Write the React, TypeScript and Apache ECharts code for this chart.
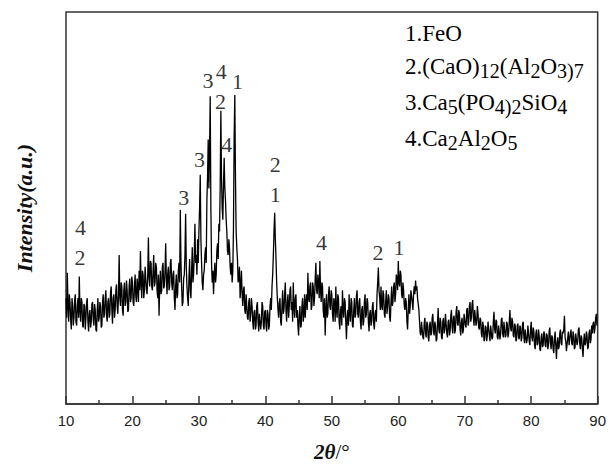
import React, { useEffect, useRef } from 'react';
import * as echarts from 'echarts';

// 2θ sampling grid: start and step (degrees)
const START_2THETA = 10;
const STEP_2THETA = 0.1;

// Intensity (a.u., 0–100 scale), one row per 2°
const intensity: number[] = [
  27, 22, 33.5, 25, 21, 28, 26, 21.5, 19, 27, 25, 20, 22, 26.5, 28, 21, 20, 25, 27, 22, // 10
  32.5, 24, 21, 27, 26, 20, 19.5, 25.5, 25, 19, 22, 26, 27, 21, 18.5, 23, 24, 19.5, 21, 25.5, // 12
  26, 21.5, 20, 25.5, 24, 19, 18.5, 24, 27, 21, 22, 26, 25, 19.5, 20, 26, 28, 22, 23, 27, // 14
  29, 22.5, 21, 26, 27, 22, 23, 28.5, 30, 24, 20.5, 27, 28, 22, 24, 29, 30.5, 25, 23, 28, // 16
  38, 27, 25, 31, 30, 24, 22.5, 29, 31, 25, 26, 31.5, 29, 23.5, 24, 30, 32, 26, 27, 32.5, // 18
  31, 26, 25, 30, 33, 27.5, 26, 32, 30, 26, 34, 29, 39, 31, 27, 34, 33, 27, 29, 35, // 20
  35, 29, 28, 33, 42.5, 32, 30, 36.5, 36, 30, 29, 34, 38, 30, 31, 36, 35, 29, 27, 33, // 22
  22.5, 30, 34, 28, 29, 35, 36, 29.5, 30, 34, 41, 32, 28, 33, 35, 29, 30, 36, 37, 31, // 24
  29, 33, 34, 27, 24, 30, 33, 27, 28, 34, 36, 31, 49.5, 36, 30, 25, 26, 32, 33, 38, // 26
  48.5, 35, 30, 27, 25, 32, 37, 29, 27, 34, 40, 31, 33, 38, 46, 36, 38, 33, 42, 36, // 28
  44, 50, 58.5, 42, 36, 31, 29, 33, 34, 38, 40, 36, 52, 58, 67.5, 55, 64, 78.5, 50, 36, // 30
  31, 34, 28, 33, 36, 31, 33, 39, 41, 37, 46, 44, 55, 74.8, 58, 50, 47, 56, 62.8, 55, // 32
  52, 47, 44, 39, 38, 42, 40, 35, 33, 36, 31, 34, 45, 67.5, 78.8, 58, 44, 40, 37, 31, // 34
  32, 35, 27, 30, 34, 28, 25, 29, 30, 24, 23, 28, 28, 22, 21.5, 26, 27, 21, 23, 27, // 36
  25, 21, 19, 23.5, 24, 19, 20, 25, 26, 21, 18.5, 23, 23, 19, 21, 26, 25, 20, 19, 23.5, // 38
  24, 20, 18.5, 24, 23, 19, 20, 25, 27, 24, 30, 33, 38, 44, 48.8, 42, 37, 31, 27, 24, // 40
  22, 26, 27, 21, 20, 25, 29, 23, 24, 28, 31, 24, 21, 26, 28, 22, 25, 29, 30, 24, // 42
  26, 21, 31, 25, 22, 27, 28, 22, 24, 20, 17.5, 23, 25, 19.5, 20, 25, 27, 21, 23, 28, // 44
  22, 26, 28, 24, 33.5, 27, 26, 30, 31, 24, 25, 31, 30, 25, 27, 32, 36, 29, 28, 33, // 46
  31, 27, 36.5, 29, 26, 31, 30, 24, 22, 27, 17.5, 24, 28, 22, 23, 28, 30, 25, 24, 29, // 48
  28, 23, 21, 27, 26, 21, 30, 24, 22, 28, 27, 21, 19, 24, 25, 20, 29, 24, 22, 27, // 50
  26, 21, 16.5, 22, 24, 20, 28, 23, 21, 27, 26, 20, 19.5, 24, 27, 22, 23, 27.5, 29, 23, // 52
  22, 26, 27, 21, 19, 24, 25, 20, 21, 26, 28, 22, 23, 27, 26, 21, 18.5, 23, 24, 20, // 54
  21, 25, 26, 20.5, 19, 23, 24, 21, 28, 31, 34.8, 29, 27, 24, 30, 25, 24, 29, 28, 23, // 56
  22, 26, 29, 23, 25, 28, 27, 22, 21, 26, 30, 25, 26, 30, 31, 26, 28, 33, 32, 29, // 58
  36.5, 31, 30, 34, 33, 28, 27, 31, 29, 25, 24, 27, 26, 21, 19, 24, 28, 23, 25, 29, // 60
  29, 26, 24, 28, 30, 28, 31.5, 29, 30, 27, 27, 24, 21, 18, 17.5, 21, 21, 17, 16.5, 20.5, // 62
  22, 18, 17, 21, 20.5, 17, 16, 20, 21, 17.5, 18, 22, 23, 18.5, 17.5, 21, 20, 16, 16.5, 20.5, // 64
  24.5, 19, 18, 22, 21, 17, 16.5, 21, 22, 18, 19, 23, 23, 18, 17, 21, 21.5, 17.5, 18.5, 22.5, // 66
  24, 19.5, 18, 22, 22.5, 18, 19, 23.5, 25, 20.5, 20, 24, 23, 19, 17.5, 21, 22, 18, 19, 23, // 68
  23, 20, 19.5, 24, 24.5, 20, 21, 25, 26, 21, 22, 25.5, 26.5, 22, 20, 24, 24, 20, 21, 25, // 70
  23, 19.5, 19, 22, 21.5, 18, 17, 21, 20, 16, 16.5, 20, 19.5, 16, 17.5, 21, 21, 17.5, 16, 20, // 72
  20, 16.5, 17, 21, 23.5, 19, 18, 21.5, 21, 17, 16.5, 20, 20, 16.5, 18, 21.5, 22, 18, 17, 21, // 74
  21, 17, 17.5, 21, 20.5, 17, 18, 21, 24, 19.5, 18.5, 22, 21, 17.5, 17, 20.5, 20, 16, 16.5, 20, // 76
  20.5, 17, 16.5, 20, 19.5, 16, 17, 20.5, 21, 17, 15.5, 19, 19, 15.5, 16.5, 20, 20, 16, 15, 19, // 78
  21, 17, 16, 19.5, 18.5, 15, 14, 18, 19, 15, 15.5, 19, 17.5, 14, 13.5, 17, 18, 14.5, 15, 18.5, // 80
  18, 15, 14.5, 18, 17.5, 14, 15, 18.5, 19.5, 15.5, 14, 17.5, 17, 14, 13, 16.5, 18.5, 15, 11.5, 15.5, // 82
  17, 14, 14.5, 18, 19, 15.5, 15, 18.5, 18, 19, 22.5, 17, 16, 13.5, 13.5, 17, 18.5, 15, 15, 18, // 84
  19, 15.5, 15, 18.5, 17.5, 14, 14.5, 18, 18, 15, 16, 19, 19.5, 15.5, 14, 17.5, 17, 14, 12, 16, // 86
  18, 15, 15.5, 18.5, 17.5, 14, 14.5, 18, 19, 15.5, 16.5, 20, 18, 20.5, 21, 18, 19.5, 22, 23, 20, // 88
  20, // 90
];

// Peak phase markers: [2θ, intensity position, phase number]
const peakLabels: [number, number, string][] = [
  [12.2, 45, '4'],
  [12.1, 37.25, '2'],
  [27.7, 52.75, '3'],
  [30.1, 62.5, '3'],
  [31.35, 82.5, '3'],
  [33.35, 84.75, '4'],
  [33.25, 77.25, '2'],
  [34.2, 66.25, '4'],
  [35.8, 82.25, '1'],
  [41.5, 61, '2'],
  [41.5, 53.5, '1'],
  [48.45, 41.25, '4'],
  [56.95, 38.75, '2'],
  [60.1, 40, '1'],
];

// Phase legend lines (rich text: m = main, s = subscript)
const phaseLines: string[] = [
  '{m|1.FeO}',
  '{m|2.(CaO)}{s|12}{m|(Al}{s|2}{m|O}{s|3)7}',
  '{m|3.Ca}{s|5}{m|(PO}{s|4)2}{m|SiO}{s|4}',
  '{m|4.Ca}{s|2}{m|Al}{s|2}{m|O}{s|5}',
];

const X_MIN = 10;
const X_MAX = 90;
const X_INTERVAL = 10;

const SERIF = '"Liberation Serif", "Times New Roman", serif';
const SANS = '"Liberation Sans", Arial, sans-serif';

export default function App() {
  const ref = useRef<HTMLDivElement>(null);

  useEffect(() => {
    if (!ref.current) return;
    const chart = echarts.init(ref.current, undefined, { renderer: 'svg' });

    const lineData = intensity.map((v, i) => [
      +(START_2THETA + i * STEP_2THETA).toFixed(1),
      v,
    ]);

    const legendY = [33, 66, 102, 138];

    chart.setOption({
      animation: false,
      backgroundColor: '#ffffff',
      grid: {
        left: 66,
        right: 6,
        top: 12,
        bottom: 55,
        show: true,
        borderColor: '#333',
        borderWidth: 1.5,
        backgroundColor: 'transparent',
      },
      xAxis: {
        type: 'value',
        min: X_MIN,
        max: X_MAX,
        interval: X_INTERVAL,
        name: '{b|2θ}{n|/°}',
        nameLocation: 'middle',
        nameGap: 37,
        nameTextStyle: {
          rich: {
            b: {
              fontFamily: SERIF,
              fontWeight: 'bold',
              fontStyle: 'italic',
              fontSize: 21,
              color: '#111',
            },
            n: { fontFamily: SERIF, fontSize: 21, color: '#111' },
          },
        },
        axisLine: { show: true, lineStyle: { color: '#333', width: 1.5 } },
        axisTick: { show: true, inside: true, length: 8, lineStyle: { color: '#333', width: 1.5 } },
        minorTick: { show: true, splitNumber: 2, length: 4, lineStyle: { color: '#333', width: 1.5 } },
        axisLabel: { fontFamily: SANS, fontSize: 15, color: '#222', margin: 9 },
        splitLine: { show: false },
      },
      yAxis: {
        type: 'value',
        min: 0,
        max: 100,
        name: 'Intensity(a.u.)',
        nameLocation: 'middle',
        nameGap: 31,
        nameTextStyle: {
          fontFamily: SERIF,
          fontWeight: 'bold',
          fontStyle: 'italic',
          fontSize: 22,
          color: '#111',
        },
        axisLine: { show: false },
        axisTick: { show: false },
        axisLabel: { show: false },
        splitLine: { show: false },
      },
      series: [
        {
          type: 'line',
          data: lineData,
          showSymbol: false,
          symbol: 'none',
          sampling: undefined,
          lineStyle: { color: '#000', width: 1.3 },
          silent: true,
          z: 2,
        },
        {
          type: 'scatter',
          data: peakLabels.map((p) => ({ value: [p[0], p[1]], name: p[2] })),
          symbolSize: 0,
          silent: true,
          z: 3,
          label: {
            show: true,
            position: 'inside',
            formatter: (p: any) => p.name,
            fontFamily: SERIF,
            fontSize: 22,
            color: '#000',
          },
        },
      ],
      graphic: phaseLines.map((t, i) => ({
        type: 'text',
        x: 405,
        y: legendY[i],
        silent: true,
        style: {
          text: t,
          verticalAlign: 'middle',
          align: 'left',
          rich: {
            m: {
              fontFamily: SERIF,
              fontSize: 23,
              lineHeight: 30,
              fill: '#000',
              color: '#000',
            },
            s: {
              fontFamily: SERIF,
              fontSize: 20,
              lineHeight: 16,
              verticalAlign: 'bottom',
              fill: '#000',
              color: '#000',
            },
          },
        },
      })),
    });

    return () => chart.dispose();
  }, []);

  return (
    <div
      ref={ref}
      style={{ width: 609, height: 467, position: 'fixed', left: 0, top: 0, background: '#fff' }}
    />
  );
}
